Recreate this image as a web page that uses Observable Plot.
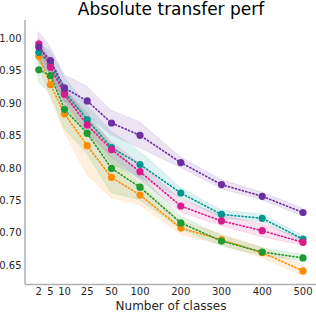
<!DOCTYPE html>
<html>
<head>
<meta charset="utf-8">
<script src="https://cdn.jsdelivr.net/npm/d3@7"></script>
<script src="https://cdn.jsdelivr.net/npm/@observablehq/plot@0.6"></script>
<style>
  html, body { margin: 0; padding: 0; background: #fff; }
  #chart { width: 316px; height: 314px; }
</style>
</head>
<body>
<div id="chart"></div>
<script>
const classes = [2, 5, 10, 25, 50, 100, 200, 300, 400, 500];
const xTickLabels = ["2", "5", "10", "25", "50", "100", "200", "300", "400", "500"];
const yTicks = [0.65, 0.70, 0.75, 0.80, 0.85, 0.90, 0.95, 1.00];

const orangeMean = [0.973, 0.929, 0.884, 0.835, 0.786, 0.759, 0.708, 0.690, 0.670, 0.642];
const orangeSd   = [0.012, 0.020, 0.028, 0.045, 0.032, 0.016, 0.010, 0.008, 0.008, 0.008];
const greenMean  = [0.952, 0.943, 0.891, 0.854, 0.800, 0.771, 0.716, 0.688, 0.671, 0.662];
const greenSd    = [0.020, 0.028, 0.030, 0.032, 0.038, 0.020, 0.010, 0.008, 0.006, 0.005];
const tealMean   = [0.979, 0.961, 0.918, 0.875, 0.832, 0.806, 0.762, 0.729, 0.723, 0.691];
const tealSd     = [0.012, 0.020, 0.022, 0.022, 0.025, 0.020, 0.008, 0.006, 0.006, 0.005];
const magentaMean= [0.992, 0.956, 0.914, 0.867, 0.829, 0.795, 0.742, 0.719, 0.704, 0.686];
const magentaSd  = [0.008, 0.012, 0.012, 0.012, 0.012, 0.012, 0.010, 0.008, 0.010, 0.005];
const purpleMean = [0.987, 0.966, 0.924, 0.904, 0.870, 0.851, 0.809, 0.775, 0.757, 0.732];
const purpleSd   = [0.023, 0.021, 0.020, 0.022, 0.019, 0.020, 0.008, 0.007, 0.006, 0.006];

const seriesNames = ["S-orange", "S-green", "S-teal", "S-magenta", "S-purple"];
const seriesColors = ["#ff8c00", "#1f9a33", "#00958f", "#d81b8c", "#6c2ea0"];
const means = [orangeMean, greenMean, tealMean, magentaMean, purpleMean];
const sds = [orangeSd, greenSd, tealSd, magentaSd, purpleSd];

const rows = [];
seriesNames.forEach((s, i) => {
  classes.forEach((c, j) => {
    rows.push({series: s, classes: c, mean: means[i][j], lo: means[i][j] - sds[i][j], hi: means[i][j] + sds[i][j]});
  });
});

const fontFam = "DejaVu Sans, sans-serif";

const chart = Plot.plot({
  width: 316,
  height: 314,
  marginLeft: 25,
  marginRight: 0,
  marginTop: 20,
  marginBottom: 30,
  style: {fontFamily: fontFam, fontSize: "10px", color: "#262626", background: "#fff"},
  x: {type: "linear", domain: classes, range: [38.3, 50, 64, 86.7, 111, 139.5, 180.3, 221, 261.7, 302.5], axis: null},
  y: {domain: [0.621, 1.028], axis: null},
  color: {domain: seriesNames, range: seriesColors},
  marks: [
    Plot.areaY(rows, {x: "classes", y1: "lo", y2: "hi", z: "series", fill: "series", fillOpacity: 0.13, stroke: "series", strokeOpacity: 0.1, strokeWidth: 1}),
    Plot.axisY(yTicks, {anchor: "left", tickSize: 0, tickPadding: 4, tickFormat: d3.format(".2f"), label: null, fontSize: 10, fill: "#262626"}),
    Plot.axisX(classes, {anchor: "bottom", tickSize: 0, tickPadding: 3, tickFormat: d => xTickLabels[classes.indexOf(d)], label: null, fontSize: 10, fill: "#262626"}),
    Plot.ruleY([0.621], {stroke: "#b0b0b0", strokeWidth: 1.5}),
    ...seriesNames.map(s => Plot.line(rows.filter(r => r.series === s), {x: "classes", y: "mean", stroke: "series", strokeWidth: 1.6, strokeDasharray: "1.2,2.4"})),
    ...seriesNames.map(s => Plot.dot(rows.filter(r => r.series === s), {x: "classes", y: "mean", fill: "series", r: 3.6, stroke: "none"})),
    Plot.text(["Absolute transfer perf"], {frameAnchor: "top", lineAnchor: "middle", dy: -11, fontSize: 17, fill: "#000", text: d => d}),
    Plot.text(["Number of classes"], {frameAnchor: "bottom", lineAnchor: "middle", dy: 22, fontSize: 12, fill: "#262626", text: d => d})
  ]
});

d3.select(chart).append("line")
  .attr("x1", 25).attr("x2", 25).attr("y1", 20).attr("y2", 284)
  .attr("stroke", "#b0b0b0").attr("stroke-width", 1.5);

document.getElementById("chart").appendChild(chart);
</script>
</body>
</html>
